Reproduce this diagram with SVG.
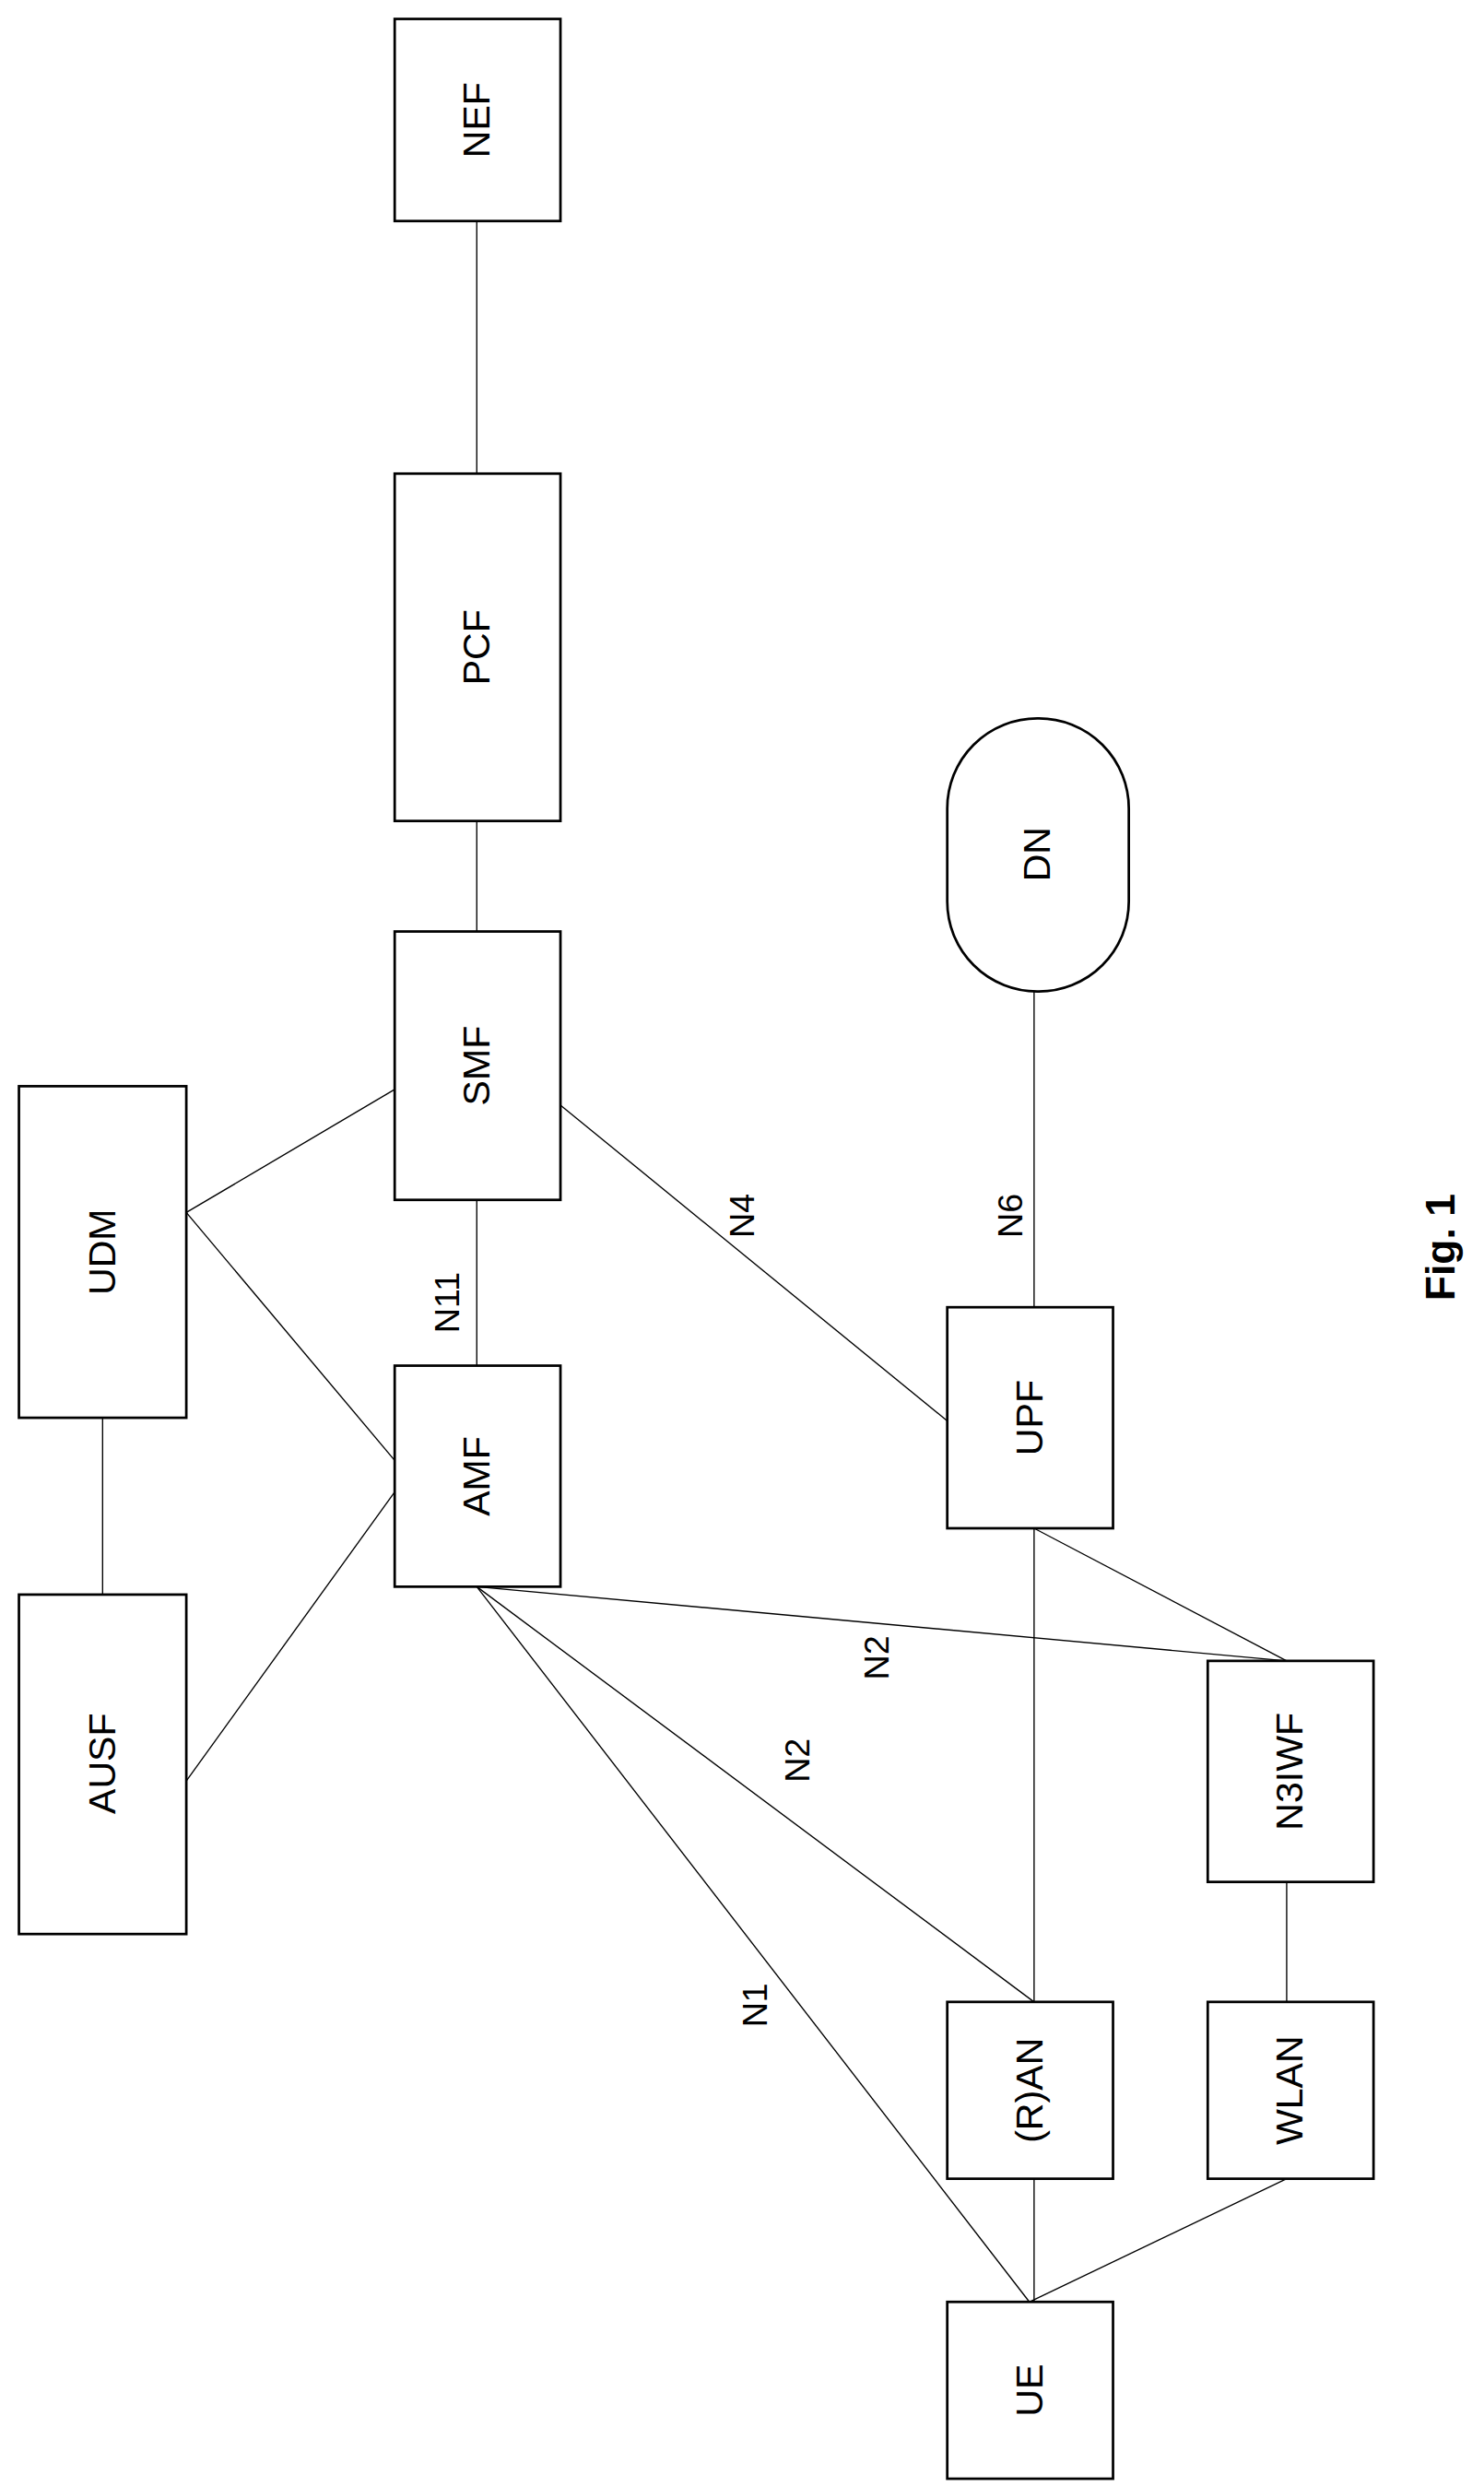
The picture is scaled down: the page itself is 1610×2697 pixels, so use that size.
<svg xmlns="http://www.w3.org/2000/svg" width="1610" height="2697" viewBox="0 0 1610 2697">
<style>
.b{fill:#fff;stroke:#000;stroke-width:1.6}
.l{stroke:#000;stroke-width:0.8;fill:none}
text{font-family:"Liberation Sans",Arial,sans-serif;font-size:24px;text-anchor:middle;dominant-baseline:central}
.e{font-size:22px}
.f{font-size:26px;font-weight:bold}
</style>
<rect width="1610" height="2697" fill="#fff"/>
<g transform="scale(1.7128)">
<g id="connectors">
<line class="l" x1="302" y1="140" x2="302" y2="300"/>
<line class="l" x1="302" y1="520" x2="302" y2="590"/>
<line class="l" x1="302" y1="760" x2="302" y2="865"/>
<line class="l" x1="65" y1="898" x2="65" y2="1010"/>
<line class="l" x1="118" y1="768" x2="250" y2="690"/>
<line class="l" x1="118" y1="768" x2="250" y2="925"/>
<line class="l" x1="118" y1="1128" x2="250" y2="945"/>
<line class="l" x1="355" y1="700" x2="600" y2="900"/>
<line class="l" x1="655" y1="628" x2="655" y2="828"/>
<line class="l" x1="655" y1="968" x2="655" y2="1268"/>
<line class="l" x1="655" y1="968" x2="815" y2="1052"/>
<line class="l" x1="302" y1="1005" x2="815" y2="1052"/>
<line class="l" x1="302" y1="1005" x2="655" y2="1268"/>
<line class="l" x1="302" y1="1005" x2="652" y2="1458"/>
<line class="l" x1="655" y1="1380" x2="655" y2="1458"/>
<line class="l" x1="815" y1="1380" x2="652" y2="1458"/>
<line class="l" x1="815" y1="1192" x2="815" y2="1268"/>
<text class="e" x="283" y="825" transform="rotate(-90 283 825)">N11</text>
<text class="e" x="470" y="770" transform="rotate(-90 470 770)">N4</text>
<text class="e" x="640" y="770" transform="rotate(-90 640 770)">N6</text>
<text class="e" x="555" y="1050" transform="rotate(-90 555 1050)">N2</text>
<text class="e" x="505" y="1115" transform="rotate(-90 505 1115)">N2</text>
<text class="e" x="478" y="1270" transform="rotate(-90 478 1270)">N1</text>
</g>
<g id="NEF"><rect class="b" x="250" y="12" width="105" height="128"/><text x="302" y="76" transform="rotate(-90 302 76)">NEF</text></g>
<g id="PCF"><rect class="b" x="250" y="300" width="105" height="220"/><text x="302" y="410" transform="rotate(-90 302 410)">PCF</text></g>
<g id="SMF"><rect class="b" x="250" y="590" width="105" height="170"/><text x="302" y="675" transform="rotate(-90 302 675)">SMF</text></g>
<g id="AMF"><rect class="b" x="250" y="865" width="105" height="140"/><text x="302" y="935" transform="rotate(-90 302 935)">AMF</text></g>
<g id="UDM"><rect class="b" x="12" y="688" width="106" height="210"/><text x="65" y="793" transform="rotate(-90 65 793)">UDM</text></g>
<g id="AUSF"><rect class="b" x="12" y="1010" width="106" height="215"/><text x="65" y="1117" transform="rotate(-90 65 1117)">AUSF</text></g>
<g id="DN"><rect class="b" x="600" y="455" width="115" height="173" rx="57" ry="57"/><text x="657" y="541" transform="rotate(-90 657 541)">DN</text></g>
<g id="UPF"><rect class="b" x="600" y="828" width="105" height="140"/><text x="652" y="898" transform="rotate(-90 652 898)">UPF</text></g>
<g id="N3IWF"><rect class="b" x="765" y="1052" width="105" height="140"/><text x="817" y="1122" transform="rotate(-90 817 1122)">N3IWF</text></g>
<g id="RAN"><rect class="b" x="600" y="1268" width="105" height="112"/><text x="652" y="1324" transform="rotate(-90 652 1324)">(R)AN</text></g>
<g id="WLAN"><rect class="b" x="765" y="1268" width="105" height="112"/><text x="817" y="1324" transform="rotate(-90 817 1324)">WLAN</text></g>
<g id="UE"><rect class="b" x="600" y="1458" width="105" height="112"/><text x="652" y="1514" transform="rotate(-90 652 1514)">UE</text></g>
<text class="f" x="912" y="790" transform="rotate(-90 912 790)">Fig. 1</text>
</g>
</svg>
